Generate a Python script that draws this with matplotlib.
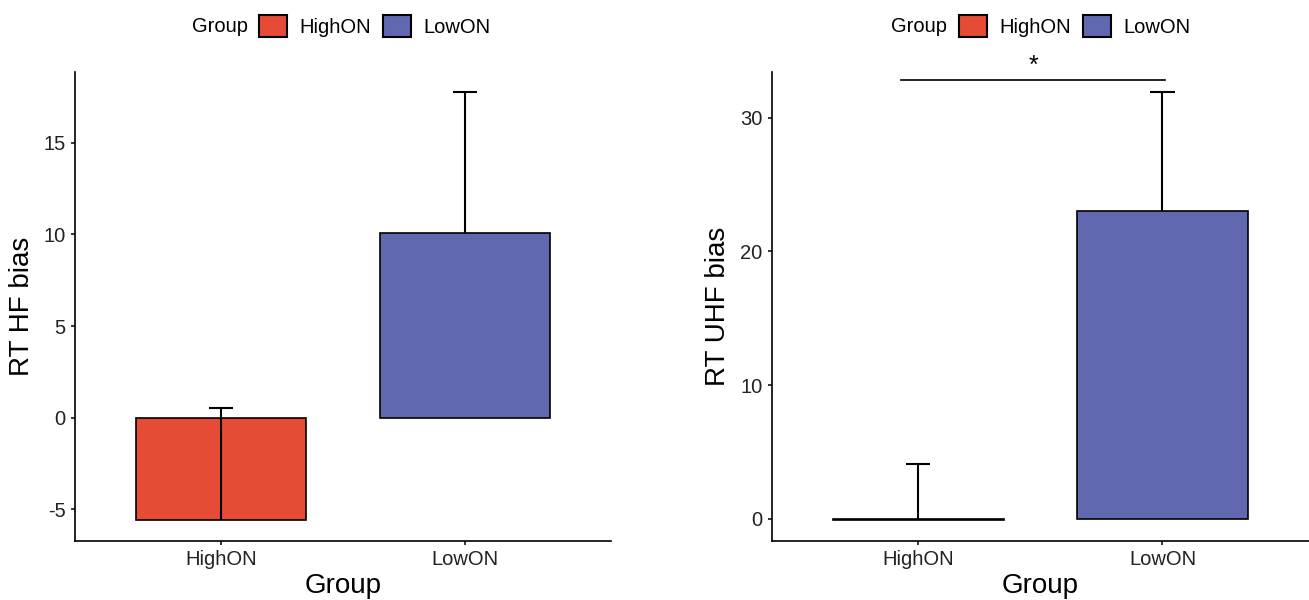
import matplotlib
matplotlib.use('Agg')
import matplotlib.pyplot as plt
from matplotlib.patches import Patch

plt.rcParams['font.family'] = ['Liberation Sans', 'DejaVu Sans']
plt.rcParams['axes.unicode_minus'] = False

groups = ['HighON', 'LowON']
colors = ['#E64B35', '#6268B0']

# left panel: RT HF bias
hf_mean = [-5.58, 10.05]
hf_upper = [0.55, 17.75]
hf_ticks = [-5, 0, 5, 10, 15]

# right panel: RT UHF bias
uhf_mean = [-0.1, 23.0]
uhf_upper = [4.1, 31.9]
uhf_ticks = [0, 10, 20, 30]
sig_x = [0.93, 2.01]
sig_y = 32.8
sig_label = '*'


def draw_panel(ax, means, uppers, ticks, ylabel, ylim):
    x = [1, 2]
    ax.bar(x, means, width=0.7, color=colors, edgecolor='black', linewidth=1.2, zorder=2)
    # upper-only error bars with a cap at the top
    ax.vlines(x, means, uppers, color='black', linewidth=1.5, zorder=3)
    ax.hlines(uppers, [i - 0.05 for i in x], [i + 0.05 for i in x],
              color='black', linewidth=1.5, zorder=3)
    ax.set_xlim(0.4, 2.6)
    ax.set_ylim(*ylim)
    ax.set_xticks(x)
    ax.set_xticklabels(groups)
    ax.set_yticks(ticks)
    ax.spines['top'].set_visible(False)
    ax.spines['right'].set_visible(False)
    for s in ['left', 'bottom']:
        ax.spines[s].set_linewidth(1.2)
    ax.tick_params(axis='both', labelsize=14.5, length=3.2, width=1.1, pad=3.5,
                   colors='black', labelcolor='#222222')
    ax.set_ylabel(ylabel, fontsize=20)
    ax.set_xlabel('Group', fontsize=20)
    ax.yaxis.set_label_coords(-0.075, 0.5)
    ax.xaxis.set_label_coords(0.5, -0.069)


def draw_legend(fig, title_right, key_left):
    handles = [Patch(facecolor=c, edgecolor='black', linewidth=1.5) for c in colors]
    fig.text(title_right / 1309, 1 - 27 / 600, 'Group', ha='right', va='center', fontsize=14.5)
    fig.legend(handles, groups, loc='center left', bbox_to_anchor=(key_left / 1309, 1 - 26 / 600),
               ncol=2, frameon=False, fontsize=14.5, borderpad=0, borderaxespad=0,
               handlelength=1.4, handleheight=1.35, handletextpad=0.6, columnspacing=0.6)


fig = plt.figure(figsize=(13.09, 6), dpi=100)
ax1 = fig.add_axes([75 / 1309, 59 / 600, 536 / 1309, 469 / 600])
ax2 = fig.add_axes([771.7 / 1309, 59 / 600, 537.3 / 1309, 469 / 600])

draw_panel(ax1, hf_mean, hf_upper, hf_ticks, 'RT HF bias', (-6.73, 18.86))
draw_panel(ax2, uhf_mean, uhf_upper, uhf_ticks, 'RT UHF bias', (-1.67, 33.43))
ax2.yaxis.set_label_coords(-0.075, 0.5)

ax2.plot(sig_x, [sig_y, sig_y], color='black', linewidth=1.2, clip_on=False)
ax2.text(sum(sig_x) / 2, sig_y + 0.2, sig_label, ha='center', va='bottom',
         fontsize=18, clip_on=False)

draw_legend(fig, 248, 259)
draw_legend(fig, 947, 959)

fig.savefig('out.png', dpi=100)
